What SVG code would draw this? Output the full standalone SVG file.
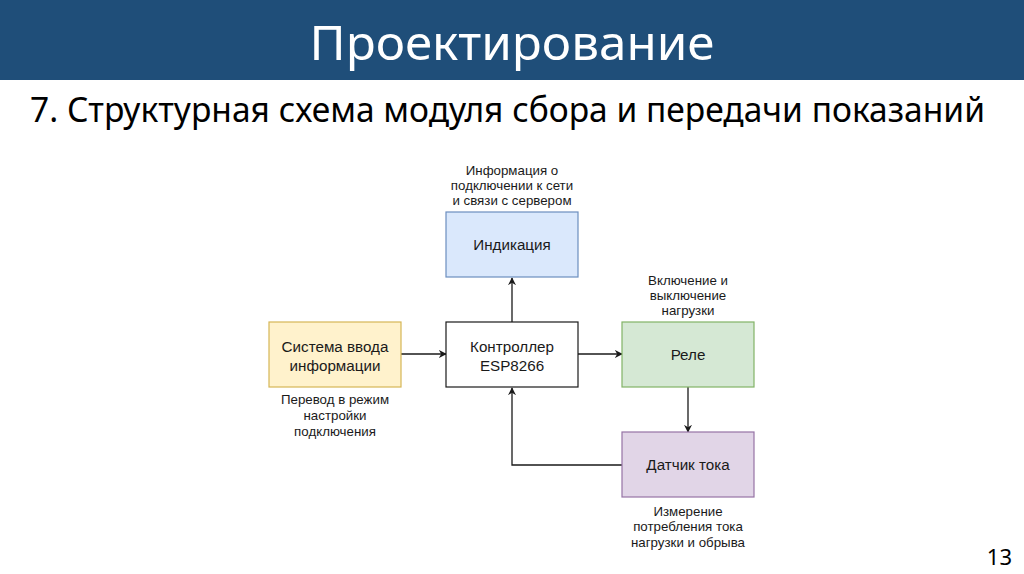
<svg xmlns="http://www.w3.org/2000/svg" width="1024" height="574" viewBox="0 0 1024 574">
<style>
.box{stroke-width:1.2}
.bt{font-family:"Liberation Sans",Arial,sans-serif;font-size:15.2px;fill:#1a1a1a;text-anchor:middle}
.lb{font-family:"Liberation Sans",Arial,sans-serif;font-size:13.3px;fill:#1a1a1a;text-anchor:middle}
.cn{fill:none;stroke:#1a1a1a;stroke-width:1.3}
</style>
<defs>
<marker id="ah" viewBox="0 0 10 10" refX="9" refY="5" markerWidth="8" markerHeight="8" orient="auto" markerUnits="userSpaceOnUse">
<path d="M0,0 L10,5 L0,10 L3,5 z" fill="#1a1a1a"/>
</marker>
</defs>
<rect width="1024" height="574" fill="#ffffff"/>
<g id="header">
<rect x="0" y="0" width="1024" height="80" fill="#1F4E79"/>
<text x="512" y="60" font-family="'Noto Sans','Open Sans',sans-serif" font-size="47" fill="#ffffff" text-anchor="middle" textLength="405" lengthAdjust="spacingAndGlyphs">Проектирование</text>
<text x="30" y="122" font-family="'Noto Sans','Open Sans',sans-serif" font-size="34" fill="#000000" textLength="955" lengthAdjust="spacingAndGlyphs">7. Структурная схема модуля сбора и передачи показаний</text>
<text x="1012" y="565" font-family="'Noto Sans','Open Sans',sans-serif" font-size="22" fill="#000000" text-anchor="end">13</text>
</g>
<g id="connectors">
<line class="cn" x1="512" y1="322" x2="512" y2="278" marker-end="url(#ah)"/>
<line class="cn" x1="401" y1="354" x2="446" y2="354" marker-end="url(#ah)"/>
<line class="cn" x1="578" y1="354" x2="622" y2="354" marker-end="url(#ah)"/>
<line class="cn" x1="688" y1="387" x2="688" y2="432" marker-end="url(#ah)"/>
<polyline class="cn" points="622,465 512,465 512,388" marker-end="url(#ah)"/>
</g>
<g id="indikaciya">
<rect class="box" x="446" y="212" width="132" height="65" fill="#dae8fc" stroke="#6c8ebf"/>
<text class="bt" x="512" y="250">Индикация</text>
<text class="lb" x="512" y="175">Информация о</text>
<text class="lb" x="512" y="190">подключении к сети</text>
<text class="lb" x="512" y="205">и связи с сервером</text>
</g>
<g id="sistema">
<rect class="box" x="269" y="322" width="132" height="65" fill="#fff2cc" stroke="#d6b656"/>
<text class="bt" x="335" y="352">Система ввода</text>
<text class="bt" x="335" y="371">информации</text>
<text class="lb" x="335" y="404">Перевод в режим</text>
<text class="lb" x="335" y="420">настройки</text>
<text class="lb" x="335" y="436">подключения</text>
</g>
<g id="controller">
<rect class="box" x="446" y="322" width="132" height="65" fill="#ffffff" stroke="#1a1a1a"/>
<text class="bt" x="512" y="352">Контроллер</text>
<text class="bt" x="512" y="371">ESP8266</text>
</g>
<g id="rele">
<rect class="box" x="622" y="322" width="132" height="65" fill="#d5e8d4" stroke="#82b366"/>
<text class="bt" x="688" y="360">Реле</text>
<text class="lb" x="688" y="285">Включение и</text>
<text class="lb" x="688" y="300">выключение</text>
<text class="lb" x="688" y="315">нагрузки</text>
</g>
<g id="datchik">
<rect class="box" x="622" y="432" width="132" height="65" fill="#e1d5e7" stroke="#9673a6"/>
<text class="bt" x="688" y="470">Датчик тока</text>
<text class="lb" x="688" y="516">Измерение</text>
<text class="lb" x="688" y="531">потребления тока</text>
<text class="lb" x="688" y="547">нагрузки и обрыва</text>
</g>
</svg>
